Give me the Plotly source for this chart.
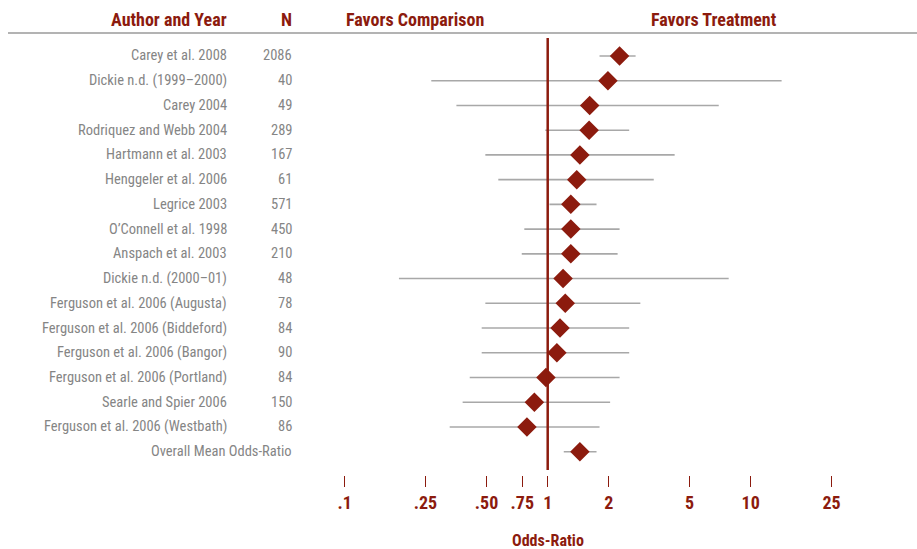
import plotly.graph_objects as go

# Study rows, top to bottom
studies = [
    "Carey et al. 2008", "Dickie n.d. (1999–2000)", "Carey 2004", "Rodriquez and Webb 2004",
    "Hartmann et al. 2003", "Henggeler et al. 2006", "Legrice 2003", "O’Connell et al. 1998",
    "Anspach et al. 2003", "Dickie n.d. (2000–01)", "Ferguson et al. 2006 (Augusta)",
    "Ferguson et al. 2006 (Biddeford)", "Ferguson et al. 2006 (Bangor)",
    "Ferguson et al. 2006 (Portland)", "Searle and Spier 2006", "Ferguson et al. 2006 (Westbath)",
]
sample_n = ["2086", "40", "49", "289", "167", "61", "571", "450", "210", "48", "78", "84", "90", "84", "150", "86"]
odds_ratio = [2.26, 1.98, 1.61, 1.60, 1.44, 1.39, 1.30, 1.30, 1.30, 1.19, 1.22, 1.15, 1.11, 0.98, 0.86, 0.79]
ci_low = [1.80, 0.267, 0.355, 0.973, 0.493, 0.571, 1.02, 0.767, 0.745, 0.185, 0.493, 0.473, 0.473, 0.413, 0.381, 0.329]
ci_high = [2.71, 14.2, 6.96, 2.52, 4.22, 3.33, 1.74, 2.26, 2.21, 7.79, 2.86, 2.52, 2.52, 2.26, 2.03, 1.80]

overall_label = "Overall Mean Odds-Ratio"
overall_or = 1.44
overall_low = 1.20
overall_high = 1.74

tick_vals = [0.1, 0.25, 0.5, 0.75, 1, 2, 5, 10, 25]
tick_text = [".1", ".25", ".50", ".75", "1", "2", "5", "10", "25"]

RED = "#8c1b0e"
GREY_TXT = "#858585"
GREY_LINE = "#a8a8a8"
FONT = "Roboto Condensed, Liberation Sans, sans-serif"

all_or = odds_ratio + [overall_or]
all_low = ci_low + [overall_low]
all_high = ci_high + [overall_high]
rows = list(range(1, len(all_or) + 1))

ci_x, ci_y = [], []
for lo, hi, r in zip(all_low, all_high, rows):
    ci_x += [lo, hi, None]
    ci_y += [r, r, None]

fig = go.Figure()
fig.add_trace(go.Scatter(x=ci_x, y=ci_y, mode="lines",
                         line=dict(color=GREY_LINE, width=1.6),
                         hoverinfo="skip", showlegend=False))
fig.add_trace(go.Scatter(x=all_or, y=rows, mode="markers",
                         marker=dict(symbol="diamond", size=15, color=RED,
                                     line=dict(width=0)),
                         showlegend=False))

# reference line at odds-ratio 1
fig.add_shape(type="line", xref="x", yref="y", x0=1, x1=1, y0=0.27, y1=17.74,
              line=dict(color=RED, width=2.5))
# header rule
fig.add_shape(type="line", xref="paper", yref="paper", x0=8 / 917, x1=1,
              y0=1 - 33 / 475, y1=1 - 33 / 475,
              line=dict(color="#9a9a9a", width=1.5))

ann = []
lab_x = 229 / 917
n_x = 294 / 917
body_font = dict(family=FONT, size=14.5, color=GREY_TXT)
for name, n, r in zip(studies, sample_n, rows):
    ann.append(dict(text=name, x=lab_x, y=r, xref="paper", yref="y", xanchor="right",
                    yanchor="middle", showarrow=False, font=body_font))
    ann.append(dict(text=n, x=n_x, y=r, xref="paper", yref="y", xanchor="right",
                    yanchor="middle", showarrow=False, font=body_font))
ann.append(dict(text=overall_label, x=n_x, y=rows[-1], xref="paper", yref="y",
                xanchor="right", yanchor="middle", showarrow=False, font=body_font))

head_y = 1 - 19 / 475
hfont = dict(family=FONT, size=18, color=RED)
ann.append(dict(text="<b>Author and Year</b>", x=lab_x, y=head_y, xref="paper", yref="paper",
                xanchor="right", yanchor="middle", showarrow=False, font=hfont))
ann.append(dict(text="<b>N</b>", x=n_x, y=head_y, xref="paper", yref="paper",
                xanchor="right", yanchor="middle", showarrow=False, font=hfont))
ann.append(dict(text="<b>Favors Comparison</b>", x=415 / 917, y=head_y, xref="paper", yref="paper",
                xanchor="center", yanchor="middle", showarrow=False, font=hfont))
ann.append(dict(text="<b>Favors Treatment</b>", x=714 / 917, y=head_y, xref="paper", yref="paper",
                xanchor="center", yanchor="middle", showarrow=False, font=hfont))
# x is a log axis, so annotation x is given in log10 units (0 -> odds-ratio 1)
ann.append(dict(text="<b>Odds-Ratio</b>", x=0, y=(475 - 540) / 475, xref="x", yref="paper",
                xanchor="center", yanchor="middle", showarrow=False,
                font=dict(family=FONT, size=16, color=RED)))

fig.update_layout(
    width=917, height=549,
    margin=dict(l=0, r=0, t=0, b=74),
    paper_bgcolor="white", plot_bgcolor="white",
    annotations=ann,
    xaxis=dict(type="log", range=[-547.7 / 203, (917 - 547.7) / 203],
               tickvals=tick_vals, ticktext=[f"<b>{t}</b>" for t in tick_text],
               ticks="outside", ticklen=11, tickwidth=1, tickcolor=RED,
               tickfont=dict(family=FONT, size=18, color=RED),
               showgrid=False, zeroline=False, showline=False, fixedrange=True),
    yaxis=dict(range=[17.943, -1.264], visible=False, showgrid=False, zeroline=False,
               fixedrange=True),
)

fig.write_html("out.html")
